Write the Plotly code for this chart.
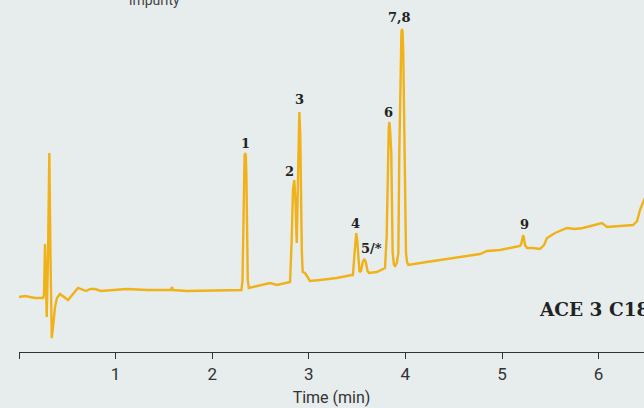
import plotly.graph_objects as go

# Chromatogram trace (time in min, detector signal in arbitrary units)
time_min = [0.000, 0.062, 0.166, 0.248, 0.259, 0.269, 0.280, 0.287, 0.300, 0.314, 0.326, 0.339, 0.352,
            0.373, 0.393, 0.424, 0.466, 0.507, 0.559, 0.611, 0.694, 0.740, 0.787, 0.850, 0.911, 1.118,
            1.325, 1.573, 1.584, 1.594, 1.739, 2.081,
            2.303, 2.314, 2.322, 2.329, 2.335, 2.342, 2.348, 2.354, 2.360, 2.368, 2.379,
            2.422, 2.598, 2.671,
            2.785, 2.806, 2.823, 2.836, 2.850, 2.862, 2.875, 2.884, 2.892, 2.902, 2.911, 2.919, 2.928,
            2.937, 2.961, 2.987, 3.012, 3.116, 3.289, 3.444,
            3.457, 3.472, 3.483, 3.491, 3.501, 3.512, 3.525, 3.540, 3.559, 3.575, 3.590, 3.608, 3.623,
            3.703, 3.789, 3.806, 3.820, 3.828, 3.834, 3.841, 3.854, 3.868, 3.882, 3.896, 3.911, 3.927,
            3.937, 3.951, 3.959, 3.965, 3.971, 3.978, 3.992, 4.006, 4.017, 4.030,
            4.220, 4.358, 4.513, 4.669, 4.772, 4.845, 4.979, 5.083, 5.155, 5.186, 5.202, 5.212, 5.219,
            5.227, 5.238, 5.259, 5.321, 5.393, 5.435, 5.466, 5.549, 5.673, 5.756, 5.838, 5.963, 6.035,
            6.087, 6.222, 6.356, 6.398, 6.429, 6.470, 6.532]
signal = [0, 1, -1, -1, 2, 53, 10, -20, 40, 144, 40, -41, -30,
          -10, -1, 3, 0, -3, 3, 9, 6, 8, 8, 6, 6.5, 8,
          7, 7, 10, 7, 6, 7,
          7, 17, 67, 122, 141, 144, 141, 122, 67, 17, 9,
          10, 14, 12,
          14, 15, 57, 107, 117, 95, 54, 110, 165, 185, 165, 100, 45,
          25, 24, 20, 16, 17, 19, 22,
          22, 42, 59, 64, 57, 37, 25, 26, 35, 38, 35, 26, 24,
          25, 29, 60, 144, 170, 175, 168, 144, 44, 32, 31, 34, 44,
          144, 244, 265, 268, 265, 244, 144, 44, 35, 32,
          35, 37, 39, 41, 43, 46, 47, 49, 50, 51, 54, 60, 62,
          59, 52, 49, 49, 48, 52, 59, 64, 69, 68, 69, 72, 74,
          70, 71, 72, 76, 87, 97, 110]

# Peak labels
peak_labels = ["1", "2", "3", "4", "5/*", "6", "7,8", "9"]
label_time = [2.340, 2.795, 2.899, 3.484, 3.651, 3.820, 3.944, 5.231]
label_signal = [154, 126, 198, 74, 49, 185, 280, 73]

tick_vals = [0, 1, 2, 3, 4, 5, 6]
tick_text = ["", "1", "2", "3", "4", "5", "6"]

BG = "#e7eded"
LINE = "#f0b119"

fig = go.Figure()
fig.add_trace(go.Scatter(x=time_min, y=signal, mode="lines",
                         line=dict(color=LINE, width=2.4), hoverinfo="skip", showlegend=False))

for lab, t, s in zip(peak_labels, label_time, label_signal):
    fig.add_annotation(x=t, y=s, xref="x", yref="y", text="<b>%s</b>" % lab, showarrow=False,
                       font=dict(family="DejaVu Serif", size=13, color="#222222"),
                       xanchor="center", yanchor="middle")

fig.add_annotation(x=5.36, y=-12, xref="x", yref="y", text="<b>ACE 3 C18</b>", showarrow=False,
                   font=dict(family="DejaVu Serif", size=18.5, color="#222222"),
                   xanchor="left", yanchor="middle")
fig.add_annotation(x=1.4, y=1, xref="x", yref="paper", text="impurity", showarrow=False,
                   font=dict(family="Roboto", size=14, color="#444444"),
                   xanchor="center", yanchor="middle", yshift=0)

fig.update_layout(
    width=644, height=408,
    margin=dict(l=19, r=0, t=0, b=56),
    paper_bgcolor=BG, plot_bgcolor=BG,
    showlegend=False,
)
fig.update_xaxes(range=[0, 6.47], tickvals=tick_vals, ticktext=tick_text,
                 showgrid=False, zeroline=False, showline=True, linecolor="#333333", linewidth=1.2,
                 ticks="outside", ticklen=6, tickwidth=1.2, tickcolor="#333333",
                 tickfont=dict(family="Roboto", size=17, color="#333333"),
                 title=dict(text="Time (min)", standoff=9,
                            font=dict(family="Roboto", size=16, color="#333333")))
fig.update_yaxes(range=[-55, 297], visible=False, showgrid=False, zeroline=False)

fig.write_html("out.html")
